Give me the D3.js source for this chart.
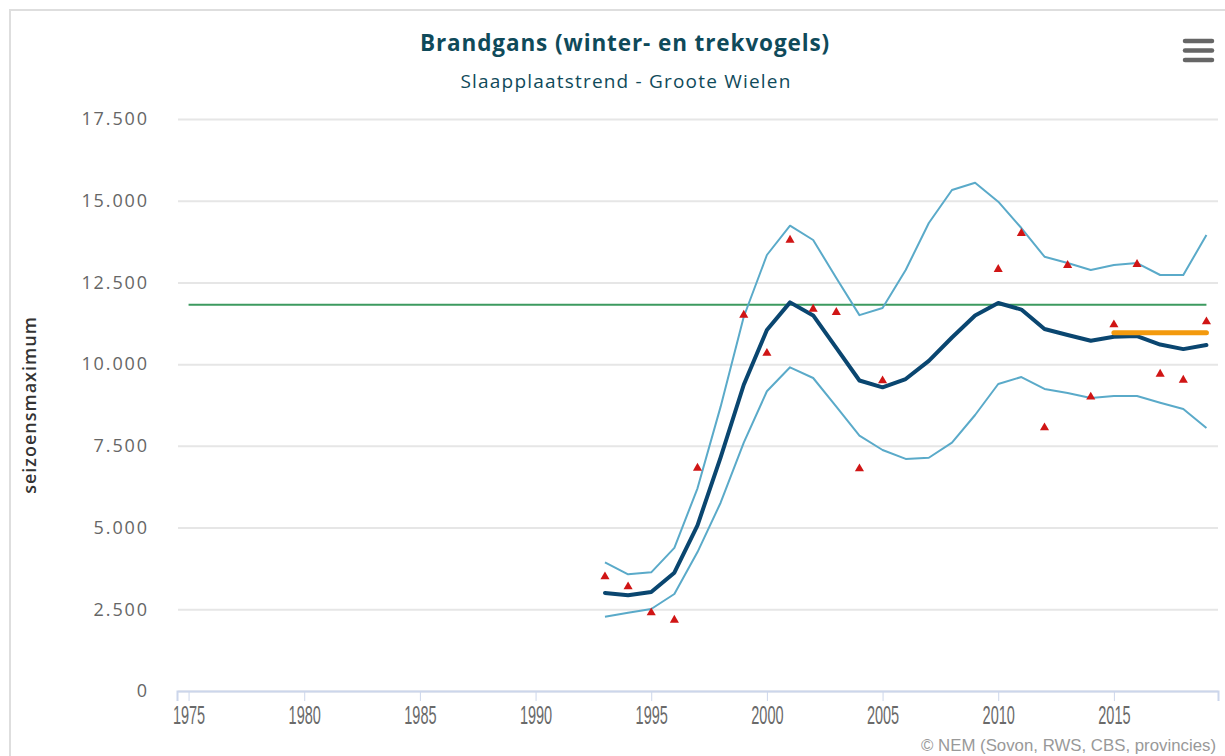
<!DOCTYPE html>
<html>
<head>
<meta charset="utf-8">
<script src="https://cdn.jsdelivr.net/npm/d3@7"></script>
<style>
  html, body { margin: 0; padding: 0; background: #fff; }
  svg { display: block; }
</style>
</head>
<body>
<svg id="chart" width="1225" height="756"></svg>
<script>
const years = d3.range(1993, 2020);
const meanTrend = [3000, 2930, 3030, 3620, 5070, 7150, 9370, 11046, 11890, 11490, 10500, 9500, 9290, 9545, 10100, 10815, 11490, 11870, 11670, 11075, 10890, 10715, 10840, 10860, 10600, 10460, 10585];
const upperBound = [3937, 3570, 3631, 4380, 6200, 8700, 11450, 13339, 14235, 13798, 12635, 11500, 11720, 12880, 14318, 15328, 15550, 14970, 14165, 13287, 13094, 12880, 13033, 13094, 12727, 12727, 13950];
const lowerBound = [2274, 2396, 2509, 2968, 4250, 5760, 7600, 9170, 9903, 9576, 8698, 7810, 7373, 7100, 7137, 7597, 8444, 9392, 9606, 9240, 9117, 8964, 9025, 9025, 8820, 8627, 8046];
const counts = [3497, 3191, 2396, 2172, 6820, null, 11500, 10335, 13798, 11686, 11585, 6800, 9493, null, null, null, null, 12900, 14002, 8055, 13023, 8995, 11207, 13054, 9698, 9515, 11298];
const referenceYears = [1975, 2019];
const referenceValue = [11820, 11820];
const recentYears = [2015, 2019];
const recentValue = [10960, 10960];
const xTicks = [1975, 1980, 1985, 1990, 1995, 2000, 2005, 2010, 2015];
const yTicks = [0, 2500, 5000, 7500, 10000, 12500, 15000, 17500];

const title = "Brandgans (winter- en trekvogels)";
const subtitle = "Slaapplaatstrend - Groote Wielen";
const yTitle = "seizoensmaximum";
const credits = "© NEM (Sovon, RWS, CBS, provincies)";

const svg = d3.select("#chart");
const x = d3.scaleLinear().domain([1974.5, 2019.5]).range([177, 1218]);
const y = d3.scaleLinear().domain([0, 17500]).range([691, 119]);
const fmt = v => d3.format(",")(v).replace(/,/g, ".");

// outer border
svg.append("rect").attr("x", 10).attr("y", 10).attr("width", 1240).attr("height", 780)
  .attr("fill", "none").attr("stroke", "#dedede").attr("stroke-width", 2);

// titles
svg.append("text").attr("x", 625).attr("y", 51).attr("text-anchor", "middle")
  .attr("font-family", "'Open Sans', sans-serif").attr("font-weight", "bold").attr("font-size", 22.5)
  .attr("letter-spacing", "0.9px")
  .attr("fill", "#0f4a5a").text(title);
svg.append("text").attr("x", 626).attr("y", 88).attr("text-anchor", "middle")
  .attr("font-family", "'Open Sans', sans-serif").attr("font-size", 19).attr("letter-spacing", "1.2px")
  .attr("fill", "#0f4a5a").text(subtitle);

// menu icon
const menu = svg.append("g");
[41, 50.5, 60].forEach(yy => {
  menu.append("line").attr("x1", 1185).attr("x2", 1212).attr("y1", yy).attr("y2", yy)
    .attr("stroke", "#666").attr("stroke-width", 4.5).attr("stroke-linecap", "round");
});

// grid
const yAxis = d3.axisLeft(y).tickValues(yTicks).tickSize(-(1218 - 178)).tickFormat(fmt).tickPadding(29);
const gy = svg.append("g").attr("transform", "translate(178,0)").call(yAxis);
gy.select(".domain").remove();
gy.selectAll(".tick line").attr("stroke", "#e6e6e6").attr("stroke-width", 2);
gy.selectAll(".tick text").attr("font-family", "'Open Sans', sans-serif").attr("font-size", 18)
  .attr("fill", "#666").attr("letter-spacing", "1.9px");

// x axis
const xAxis = d3.axisBottom(x).tickValues(xTicks).tickFormat(d3.format("d")).tickSize(10).tickPadding(5);
const gx = svg.append("g").attr("transform", "translate(0,691)").call(xAxis);
gx.select(".domain").attr("stroke", "#ccd6eb").attr("stroke-width", 2);
gx.selectAll(".tick line").attr("stroke", "#ccd6eb");
gx.selectAll(".tick text").attr("font-family", "'Liberation Sans', sans-serif")
  .attr("font-size", 25).attr("fill", "#6a6a6a")
  .attr("transform", "scale(0.58,1)");

// y title
svg.append("text").attr("transform", "translate(36,405) rotate(-90)").attr("text-anchor", "middle")
  .attr("font-family", "'Open Sans', sans-serif").attr("font-weight", "600").attr("font-size", 18)
  .attr("letter-spacing", "1px")
  .attr("fill", "#333").text(yTitle);

// reference line
const line2 = d3.line().x(d => x(d[0])).y(d => y(d[1]));
svg.append("path").datum(referenceYears.map((d, i) => [d, referenceValue[i]]))
  .attr("d", line2).attr("fill", "none").attr("stroke", "#3c9a5f").attr("stroke-width", 2);

// band lines
const lineY = d3.line().defined(d => d[1] != null).x(d => x(d[0])).y(d => y(d[1]));
[upperBound, lowerBound].forEach(arr => {
  svg.append("path").datum(years.map((yr, i) => [yr, arr[i]]))
    .attr("d", lineY).attr("fill", "none").attr("stroke", "#5aaac9").attr("stroke-width", 2)
    .attr("stroke-linejoin", "round");
});

// mean trend
svg.append("path").datum(years.map((yr, i) => [yr, meanTrend[i]]))
  .attr("d", lineY).attr("fill", "none").attr("stroke", "#0a4670").attr("stroke-width", 4)
  .attr("stroke-linejoin", "round").attr("stroke-linecap", "round");

// recent trend (orange)
svg.append("path").datum(recentYears.map((d, i) => [d, recentValue[i]]))
  .attr("d", line2).attr("fill", "none").attr("stroke", "#f39a0e").attr("stroke-width", 5)
  .attr("stroke-linecap", "round");

// counts
const tri = d3.symbol().type(d3.symbolTriangle).size(36);
svg.append("g").selectAll("path").data(years.map((yr, i) => [yr, counts[i]]).filter(d => d[1] != null))
  .join("path").attr("d", tri)
  .attr("transform", d => `translate(${x(d[0])},${y(d[1])})`)
  .attr("fill", "#d01515");

// credits
svg.append("text").attr("x", 1216).attr("y", 751).attr("text-anchor", "end")
  .attr("font-family", "'Liberation Sans', sans-serif").attr("font-size", 17)
  .attr("textLength", 295).attr("lengthAdjust", "spacingAndGlyphs")
  .attr("fill", "#999").text(credits);
</script>
</body>
</html>
